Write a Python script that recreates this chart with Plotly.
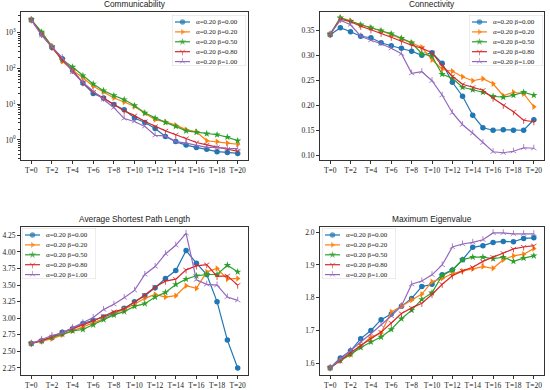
import plotly.graph_objects as go

# ---------------- data ----------------
steps = ["T=%d" % i for i in range(21)]
tick_steps = steps[::2]
labels = ["α=0.20 β=0.00", "α=0.20 β=0.20", "α=0.20 β=0.50", "α=0.20 β=0.80", "α=0.20 β=1.00"]

comm_b000 = [2300, 940, 390, 187, 88, 39, 20, 15, 9.8, 7.0, 4.1, 3.1, 2.1, 1.25, 0.9, 0.72, 0.62, 0.55, 0.47, 0.45, 0.42]
comm_b020 = [2300, 1000, 430, 158, 90, 55, 32, 22, 15, 11.5, 8.6, 5.6, 3.7, 3.2, 2.6, 1.95, 1.7, 0.95, 0.9, 0.82, 0.76]
comm_b050 = [2300, 1050, 400, 175, 110, 63, 37, 24, 17.5, 13.5, 9.2, 5.7, 4.1, 3.1, 2.4, 1.8, 1.65, 1.5, 1.4, 1.2, 0.95]
comm_b080 = [2300, 900, 390, 175, 88, 40, 22, 15, 9.8, 6.5, 4.8, 3.3, 2.4, 1.8, 1.4, 1.1, 0.85, 0.73, 0.62, 0.55, 0.49]
comm_b100 = [2300, 840, 400, 200, 79, 41, 23, 13.5, 8.0, 4.0, 3.3, 2.4, 1.35, 1.3, 0.9, 0.82, 0.7, 0.62, 0.62, 0.58, 0.57]

conn_b000 = [0.341, 0.355, 0.347, 0.338, 0.335, 0.325, 0.319, 0.314, 0.308, 0.300, 0.305, 0.284, 0.246, 0.218, 0.180, 0.155, 0.150, 0.151, 0.150, 0.150, 0.171]
conn_b020 = [0.342, 0.375, 0.369, 0.360, 0.355, 0.349, 0.341, 0.333, 0.325, 0.316, 0.291, 0.272, 0.268, 0.257, 0.249, 0.253, 0.243, 0.219, 0.226, 0.223, 0.197]
conn_b050 = [0.342, 0.375, 0.368, 0.361, 0.355, 0.349, 0.343, 0.334, 0.325, 0.303, 0.298, 0.262, 0.254, 0.236, 0.231, 0.226, 0.218, 0.216, 0.220, 0.226, 0.220]
conn_b080 = [0.342, 0.372, 0.367, 0.358, 0.351, 0.344, 0.336, 0.328, 0.320, 0.314, 0.305, 0.279, 0.258, 0.242, 0.236, 0.230, 0.214, 0.200, 0.187, 0.170, 0.167]
conn_b100 = [0.342, 0.370, 0.361, 0.338, 0.330, 0.323, 0.314, 0.303, 0.264, 0.267, 0.249, 0.220, 0.185, 0.161, 0.144, 0.125, 0.107, 0.105, 0.108, 0.115, 0.114]

aspl_b000 = [2.62, 2.66, 2.71, 2.79, 2.84, 2.92, 2.97, 3.02, 3.07, 3.15, 3.25, 3.34, 3.46, 3.60, 3.72, 4.02, 3.83, 3.66, 3.25, 2.67, 2.25]
aspl_b020 = [2.62, 2.66, 2.69, 2.75, 2.81, 2.86, 2.92, 2.99, 3.06, 3.13, 3.21, 3.30, 3.36, 3.32, 3.34, 3.49, 3.45, 3.70, 3.75, 3.59, 3.60]
aspl_b050 = [2.62, 2.66, 2.71, 2.76, 2.81, 2.83, 2.90, 2.98, 3.05, 3.10, 3.18, 3.22, 3.32, 3.39, 3.51, 3.59, 3.64, 3.66, 3.66, 3.80, 3.70]
aspl_b080 = [2.62, 2.66, 2.72, 2.78, 2.84, 2.89, 2.96, 3.03, 3.10, 3.14, 3.24, 3.35, 3.47, 3.56, 3.59, 3.73, 3.79, 3.81, 3.63, 3.64, 3.50]
aspl_b100 = [2.62, 2.68, 2.74, 2.78, 2.86, 2.93, 3.01, 3.13, 3.21, 3.31, 3.42, 3.66, 3.78, 3.97, 4.10, 4.28, 3.58, 3.51, 3.50, 3.32, 3.27]

eig_b000 = [1.586, 1.616, 1.638, 1.675, 1.700, 1.733, 1.750, 1.774, 1.798, 1.834, 1.841, 1.870, 1.885, 1.916, 1.954, 1.959, 1.969, 1.972, 1.971, 1.981, 1.983]
eig_b020 = [1.586, 1.608, 1.626, 1.654, 1.680, 1.692, 1.757, 1.774, 1.793, 1.811, 1.849, 1.859, 1.873, 1.882, 1.888, 1.895, 1.890, 1.916, 1.928, 1.933, 1.950]
eig_b050 = [1.586, 1.608, 1.627, 1.648, 1.665, 1.680, 1.703, 1.736, 1.762, 1.795, 1.815, 1.868, 1.884, 1.916, 1.924, 1.924, 1.919, 1.924, 1.911, 1.921, 1.928]
eig_b080 = [1.586, 1.610, 1.632, 1.654, 1.675, 1.695, 1.723, 1.752, 1.769, 1.783, 1.810, 1.841, 1.867, 1.882, 1.893, 1.911, 1.924, 1.936, 1.949, 1.955, 1.959]
eig_b100 = [1.586, 1.613, 1.639, 1.665, 1.690, 1.716, 1.744, 1.775, 1.841, 1.851, 1.870, 1.900, 1.955, 1.964, 1.969, 1.977, 1.998, 1.998, 1.995, 1.995, 1.995]

panels = [
    ("Communicability", [comm_b000, comm_b020, comm_b050, comm_b080, comm_b100]),
    ("Connectivity", [conn_b000, conn_b020, conn_b050, conn_b080, conn_b100]),
    ("Average Shortest Path Length", [aspl_b000, aspl_b020, aspl_b050, aspl_b080, aspl_b100]),
    ("Maximum Eigenvalue", [eig_b000, eig_b020, eig_b050, eig_b080, eig_b100]),
]

# ---------------- style ----------------
W, H = 550, 390
colors = ["#1f77b4", "#ff7f0e", "#2ca02c", "#d62728", "#9467bd"]
symbols = ["circle", "triangle-right", "star", "y-down", "y-up"]
msizes = [5.5, 5.5, 5.5, 4.5, 4.5]
mlw = [0, 0, 0, 0.8, 0.8]
TICKFONT = dict(family="Liberation Serif", size=7.5, color="#222")
LEGFONT = dict(family="Liberation Serif", size=7, color="#222")
TITLEFONT = dict(family="Liberation Sans", size=8.3, color="#222")
AXC = "#333"

def px_x(p):
    return p / W

def px_y(p):
    return 1 - p / H

# plot areas in pixels: (left, right, top, bottom)
areas = [(21, 248, 12, 160), (320, 544, 12, 160), (21, 248, 227, 375), (320, 544, 227, 375)]
# legend boxes in pixels: (left, top)
legbox = [(172, 15), (469, 15), (22, 228), (322, 228)]
LW, LH = 74, 51
yranges = [[-0.56, 3.58], [0.0905, 0.3865], [2.144, 4.376], [1.564, 2.016]]

fig = go.Figure()
layout = dict(width=W, height=H, margin=dict(l=0, r=0, t=0, b=0),
              paper_bgcolor="white", plot_bgcolor="white", showlegend=False)
annotations = []

for k, (title, series) in enumerate(panels):
    i = k + 1
    xa = "x" if i == 1 else "x%d" % i
    ya = "y" if i == 1 else "y%d" % i
    l, r, t, b = areas[k]
    for s, vals in enumerate(series):
        fig.add_trace(go.Scatter(
            x=steps, y=vals, mode="lines+markers", name=labels[s],
            xaxis=xa, yaxis=ya,
            line=dict(color=colors[s], width=1.2),
            marker=dict(symbol=symbols[s], size=msizes[s], color=colors[s],
                        line=dict(color=colors[s], width=mlw[s])),
        ))
    xkey = "xaxis" if i == 1 else "xaxis%d" % i
    ykey = "yaxis" if i == 1 else "yaxis%d" % i
    layout[xkey] = dict(domain=[px_x(l), px_x(r)], anchor=ya, type="category",
                        categoryorder="array", categoryarray=steps,
                        range=[-1, 21], tickmode="array", tickvals=tick_steps,
                        showline=True, mirror=True, linecolor=AXC, linewidth=0.8,
                        ticks="outside", ticklen=3, tickwidth=0.8, tickcolor=AXC,
                        showgrid=False, zeroline=False, tickfont=TICKFONT)
    yax = dict(domain=[px_y(b), px_y(t)], anchor=xa, range=yranges[k],
               showline=True, mirror=True, linecolor=AXC, linewidth=0.8,
               ticks="outside", ticklen=3, tickwidth=0.8, tickcolor=AXC,
               showgrid=False, zeroline=False, tickfont=TICKFONT)
    if k == 0:
        yax.update(type="log", tickmode="array", tickvals=[1, 10, 100, 1000],
                   ticktext=["10<sup>0</sup>", "10<sup>1</sup>", "10<sup>2</sup>", "10<sup>3</sup>"],
                   minor=dict(ticks="outside", ticklen=1.8, tickwidth=0.6, tickcolor=AXC,
                              tickvals=[m * 10 ** e for e in range(-1, 4) for m in range(2, 10)],
                              showgrid=False))
    elif k == 1:
        yax.update(tickmode="array", tickvals=[0.10, 0.15, 0.20, 0.25, 0.30, 0.35], tickformat=".2f")
    elif k == 2:
        yax.update(tickmode="array", tickvals=[2.25, 2.50, 2.75, 3.00, 3.25, 3.50, 3.75, 4.00, 4.25], tickformat=".2f")
    else:
        yax.update(tickmode="array", tickvals=[1.6, 1.7, 1.8, 1.9, 2.0], tickformat=".1f")
    layout[ykey] = yax
    annotations.append(dict(text=title, x=(px_x(l) + px_x(r)) / 2, y=px_y(t - 1),
                            xref="paper", yref="paper", xanchor="center", yanchor="bottom",
                            showarrow=False, font=TITLEFONT))

# ---------------- legends (drawn on small overlay axes) ----------------
for k in range(4):
    j = k + 5
    xa, ya = "x%d" % j, "y%d" % j
    bl, bt = legbox[k]
    layout["xaxis%d" % j] = dict(domain=[px_x(bl), px_x(bl + LW)], range=[0, LW], anchor=ya,
                                 visible=False, fixedrange=True)
    layout["yaxis%d" % j] = dict(domain=[px_y(bt + LH), px_y(bt)], range=[LH, 0], anchor=xa,
                                 visible=False, fixedrange=True)
    fig.add_trace(go.Scatter(x=[0, LW, LW, 0, 0], y=[0, 0, LH, LH, 0], mode="lines",
                             fill="toself", fillcolor="rgba(255,255,255,0.85)",
                             line=dict(color="#d0d0d0", width=0.8), xaxis=xa, yaxis=ya,
                             hoverinfo="skip", cliponaxis=False))
    for s in range(5):
        ry = 7 + 9.9 * s
        fig.add_trace(go.Scatter(x=[3, 10.5, 18], y=[ry, ry, ry], mode="lines+markers",
                                 xaxis=xa, yaxis=ya, hoverinfo="skip", cliponaxis=False,
                                 line=dict(color=colors[s], width=1.2),
                                 marker=dict(symbol=symbols[s], size=[0, msizes[s], 0], color=colors[s],
                                             line=dict(color=colors[s], width=mlw[s]))))
        annotations.append(dict(text=labels[s], x=22, y=ry, xref=xa, yref=ya,
                                xanchor="left", yanchor="middle", showarrow=False, font=LEGFONT))

layout["annotations"] = annotations
fig.update_layout(**layout)
fig.write_html("out.html", config={"displayModeBar": False},
               post_script="document.body.style.margin='0';")
